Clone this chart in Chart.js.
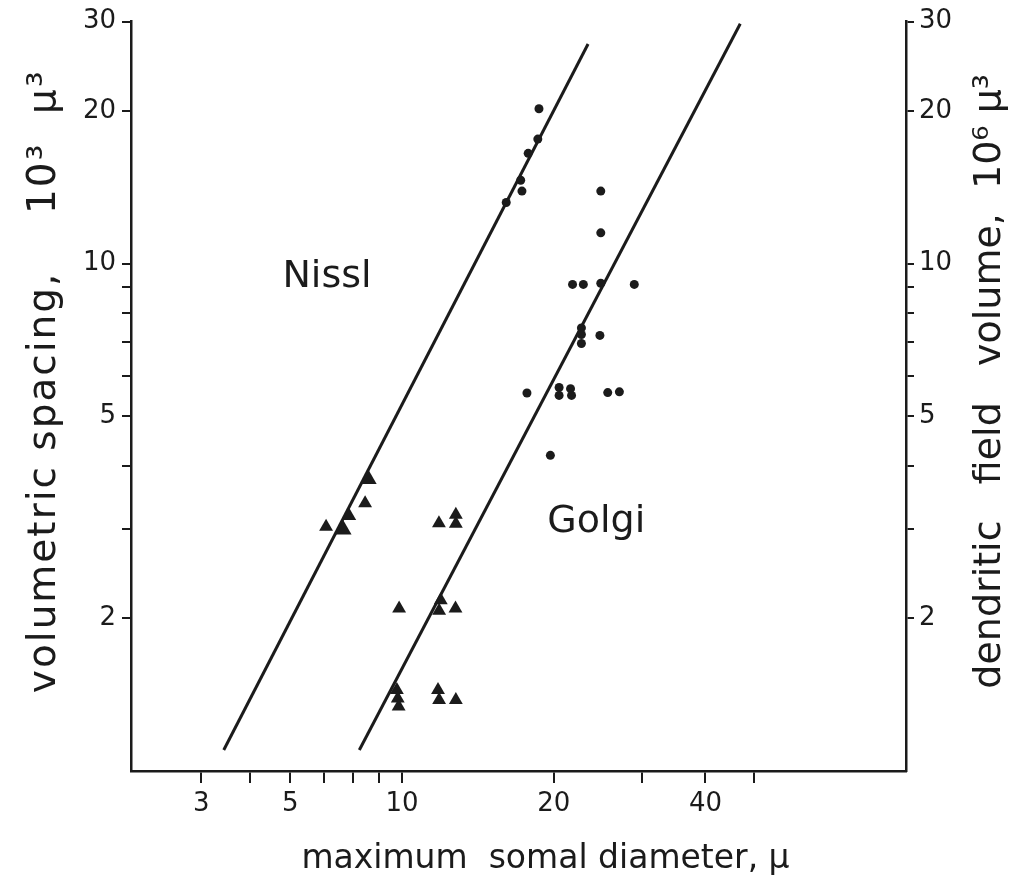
<!DOCTYPE html>
<html>
<head>
<meta charset="utf-8">
<script src="https://cdn.jsdelivr.net/npm/chart.js@4"></script>
<style>
  body { margin: 0; background: #fff; }
  #wrap { width: 1021px; height: 892px; }
</style>
</head>
<body>
<div id="wrap"><canvas id="chart"></canvas></div>
<script>
// values (log-log axes)
const circleX = [18.7, 18.6, 17.8, 17.2, 17.3, 16.1, 24.8, 24.8, 21.8, 22.9, 24.8, 28.9, 22.7, 22.7, 22.7, 24.7, 17.7, 20.5, 20.5, 21.6, 21.7, 25.6, 27.0, 19.7]
const circleY = [20.2, 17.6, 16.5, 14.6, 13.9, 13.2, 13.9, 11.5, 9.1, 9.1, 9.15, 9.1, 7.47, 7.25, 6.96, 7.22, 5.56, 5.70, 5.50, 5.67, 5.50, 5.57, 5.59, 4.19]

const triangleX = [8.45, 7.86, 7.07, 11.84, 12.79, 12.79, 9.87, 11.94, 11.85, 12.77, 9.77, 9.81, 9.85, 11.79, 11.85, 12.79]
const triangleY = [3.37, 3.18, 3.03, 3.08, 3.20, 3.07, 2.09, 2.17, 2.07, 2.09, 1.445, 1.39, 1.34, 1.445, 1.38, 1.38]
const bigTriangleX = [8.58, 7.65]
const bigTriangleY = [3.76, 2.99]

const nisslLineX = [4.43, 23.4]
const nisslLineY = [1.10, 27.1]
const golgiLineX = [8.23, 46.9]
const golgiLineY = [1.10, 29.7]

const labelTexts = ["Nissl", "Golgi"]
const labelX = [7.1, 24.3]
const labelY = [9.4, 3.1]

// the printed x labels sit under the 4 and 6 ticks
const xTickValues = [4, 5, 6, 7, 8, 9, 10, 20, 30, 40, 50]
const xTickLabels = ["3", "", "5", "", "", "", "10", "20", "", "40", ""]
const yTickValues = [2, 3, 4, 5, 6, 7, 8, 9, 10, 20, 30]
const yTickLabels = ["2", "", "", "5", "", "", "", "", "10", "20", "30"]

const xTitle = "maximum  somal diameter, \u03bc"
const yTitle = "volumetric spacing,    10\u00b3  \u03bc\u00b3"
const y2Title = "dendritic   field   volume,  10\u2076 \u03bc\u00b3"

const ink = "#1b1b1b"
const fontFamily = "'DejaVu Sans', sans-serif"

function points(xs, ys) {
  return xs.map((x, i) => ({x: x, y: ys[i]}))
}

function rotatedText(ctx, text, x, y) {
  ctx.save()
  ctx.translate(x, y)
  ctx.rotate(-Math.PI / 2)
  ctx.fillText(text, 0, 0)
  ctx.restore()
}

const textPlugin = {
  id: "texts",
  afterDraw(chart) {
    const ctx = chart.ctx
    const xs = chart.scales.x
    const ys = chart.scales.y
    const area = chart.chartArea
    const midY = (area.top + area.bottom) / 2 - 15
    ctx.save()
    ctx.fillStyle = ink
    ctx.textAlign = "center"
    ctx.textBaseline = "middle"
    ctx.font = "38px " + fontFamily
    labelTexts.forEach((t, i) => {
      ctx.fillText(t, xs.getPixelForValue(labelX[i]), ys.getPixelForValue(labelY[i]))
    })
    // axis titles, both vertical ones read bottom to top
    ctx.font = "38px " + fontFamily
    rotatedText(ctx, y2Title, area.right + 84, midY)
    ctx.font = "39px " + fontFamily
    ctx.letterSpacing = "2px"
    rotatedText(ctx, yTitle, area.left - 86, midY)
    ctx.letterSpacing = "0px"
    ctx.font = "33px " + fontFamily
    ctx.fillText(xTitle, (area.left + area.right) / 2 + 27, area.bottom + 88)
    ctx.restore()
  }
}

function axisTicks(values, labels, font, padding) {
  return {
    autoSkip: false,
    maxRotation: 0,
    color: ink,
    padding: padding,
    font: {family: fontFamily, size: font},
    callback: (v) => {
      const i = values.indexOf(v)
      return i < 0 ? "" : labels[i]
    }
  }
}

new Chart(document.getElementById("chart"), {
  type: "scatter",
  data: {
    datasets: [
      {label: "circles", data: points(circleX, circleY), pointStyle: "circle", pointRadius: 4.5, backgroundColor: ink, borderWidth: 0},
      {label: "triangles", data: points(triangleX, triangleY), pointStyle: "triangle", pointRadius: 8, backgroundColor: ink, borderWidth: 0},
      {label: "large triangles", data: points(bigTriangleX, bigTriangleY), pointStyle: "triangle", pointRadius: 9.5, backgroundColor: ink, borderWidth: 0},
      {label: "Nissl", data: points(nisslLineX, nisslLineY), showLine: true, pointRadius: 0, borderColor: ink, borderWidth: 3},
      {label: "Golgi", data: points(golgiLineX, golgiLineY), showLine: true, pointRadius: 0, borderColor: ink, borderWidth: 3}
    ]
  },
  options: {
    responsive: true,
    maintainAspectRatio: false,
    animation: false,
    layout: {padding: {top: 20, left: 0, right: 0, bottom: 0}},
    plugins: {legend: {display: false}, tooltip: {enabled: false}},
    scales: {
      x: {
        type: "logarithmic",
        min: 2.9,
        max: 100,
        afterBuildTicks: (s) => { s.ticks = xTickValues.map(v => ({value: v})) },
        afterFit: (s) => { s.height = 121 },
        ticks: axisTicks(xTickValues, xTickLabels, 26, 6),
        grid: {drawOnChartArea: false, tickLength: 12, lineWidth: 2, color: ink},
        border: {display: true, width: 2.5, color: ink}
      },
      y: {
        type: "logarithmic",
        position: "left",
        min: 1,
        max: 30,
        afterBuildTicks: (s) => { s.ticks = yTickValues.map(v => ({value: v})) },
        afterFit: (s) => { s.width = 131 },
        ticks: axisTicks(yTickValues, yTickLabels, 26, 6),
        grid: {drawOnChartArea: false, tickLength: 9, lineWidth: 2, color: ink},
        border: {display: true, width: 2.5, color: ink}
      },
      y2: {
        type: "logarithmic",
        position: "right",
        min: 1,
        max: 30,
        afterBuildTicks: (s) => { s.ticks = yTickValues.map(v => ({value: v})) },
        afterFit: (s) => { s.width = 115 },
        ticks: axisTicks(yTickValues, yTickLabels, 26, 5),
        grid: {drawOnChartArea: false, tickLength: 8, lineWidth: 2, color: ink},
        border: {display: true, width: 2.5, color: ink}
      }
    }
  },
  plugins: [textPlugin]
})
</script>
</body>
</html>
